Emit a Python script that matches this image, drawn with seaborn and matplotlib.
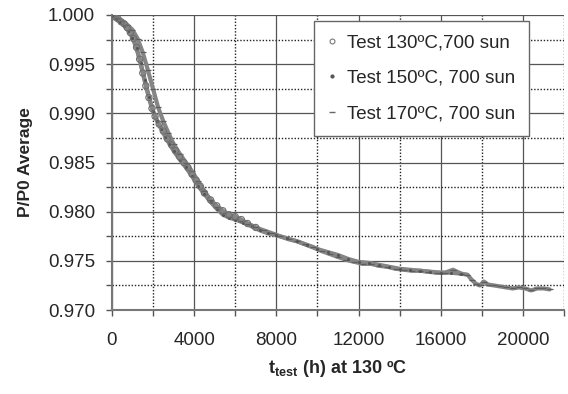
import matplotlib
matplotlib.use("Agg")
import matplotlib.pyplot as plt
import seaborn as sns
import pandas as pd
from matplotlib.ticker import MultipleLocator
from matplotlib.lines import Line2D

# Values (t in h at 130 ºC, P/P0)
t130 = [0, 150, 300, 450, 600, 750, 900, 1050, 1200, 1350, 1500, 1650, 1800, 1950, 2100,
        2300, 2500, 2700, 2900, 3100, 3300, 3500, 3700, 3900, 4100, 4300, 4500, 4800,
        5100, 5400, 5700, 6000, 6300, 6600, 7000]
p130 = [1.0000, 0.9998, 0.9996, 0.9993, 0.9991, 0.9987, 0.9982, 0.9976, 0.9967, 0.9955,
        0.9941, 0.9928, 0.9916, 0.9905, 0.9897, 0.9889, 0.9882, 0.9874, 0.9868, 0.9862,
        0.9856, 0.9850, 0.9845, 0.9838, 0.9832, 0.9826, 0.9819, 0.9812, 0.9806, 0.9801,
        0.9797, 0.9795, 0.9792, 0.9788, 0.9784]

t150 = [0, 200, 400, 600, 800, 1000, 1200, 1400, 1600, 1800, 2000, 2200, 2400, 2600, 2800,
        3000, 3300, 3600, 3900, 4200, 4500, 4800, 5100, 5400, 5700, 6000, 6400, 6800, 7200,
        7600, 8000, 8500, 9000, 9500, 10000, 10500, 11000, 11500, 12000, 12500, 13000,
        13500, 14000, 14500, 15000, 15500, 16000, 16500, 17000]
p150 = [0.9999, 0.9996, 0.9993, 0.9989, 0.9984, 0.9977, 0.9966, 0.9951, 0.9934, 0.9917,
        0.9902, 0.9892, 0.9884, 0.9876, 0.9869, 0.9862, 0.9853, 0.9845, 0.9836, 0.9826,
        0.9818, 0.9810, 0.9803, 0.9797, 0.9794, 0.9792, 0.9789, 0.9785, 0.9781, 0.9778,
        0.9776, 0.9773, 0.9770, 0.9766, 0.9762, 0.9759, 0.9756, 0.9752, 0.9749, 0.9748,
        0.9746, 0.9744, 0.9742, 0.9741, 0.9740, 0.9739, 0.9738, 0.9738, 0.9737]

t170 = [0, 250, 500, 750, 1000, 1250, 1500, 1750, 2000, 2250, 2500, 2750, 3000, 3300, 3600,
        3900, 4200, 4500, 4800, 5100, 5400, 5700, 6000, 6300, 6600, 7000, 7400, 7800, 8200,
        8600, 9000, 9400, 9800, 10200, 10600, 11000, 11400, 11800, 12200, 12600, 13000,
        13400, 13800, 14200, 14600, 15000, 15400, 15800, 16200, 16600, 17000, 17300, 17500,
        17700, 17900, 18100, 18300, 18600, 18900, 19200, 19500, 19800, 20100, 20400, 20700,
        21000, 21300]
p170 = [1.0000, 0.9997, 0.9994, 0.9990, 0.9985, 0.9976, 0.9962, 0.9944, 0.9925, 0.9906,
        0.9892, 0.9880, 0.9869, 0.9859, 0.9850, 0.9841, 0.9831, 0.9821, 0.9812, 0.9805,
        0.9799, 0.9795, 0.9793, 0.9791, 0.9788, 0.9784, 0.9781, 0.9778, 0.9775, 0.9772,
        0.9770, 0.9767, 0.9764, 0.9760, 0.9757, 0.9754, 0.9751, 0.9749, 0.9747, 0.9747,
        0.9745, 0.9744, 0.9742, 0.9741, 0.9740, 0.9740, 0.9739, 0.9738, 0.9738, 0.9741,
        0.9737, 0.9736, 0.9731, 0.9727, 0.9725, 0.9729, 0.9726, 0.9725, 0.9724, 0.9723,
        0.9722, 0.9723, 0.9722, 0.9720, 0.9722, 0.9722, 0.9721]

labels = ["Test 130ºC,700 sun", "Test 150ºC, 700 sun", "Test 170ºC, 700 sun"]

sns.set_style("white")
plt.rcParams["font.family"] = ["Liberation Sans", "DejaVu Sans"]
plt.rcParams["mathtext.fontset"] = "custom"
plt.rcParams["mathtext.rm"] = "Liberation Sans"
plt.rcParams["mathtext.bf"] = "Liberation Sans:bold"

fig = plt.figure(figsize=(5.68, 3.94), dpi=100)
ax = fig.add_axes([0.197, 0.213, 0.796, 0.749])

gray = "#858585"
for t, p in [(t170, p170), (t150, p150), (t130, p130)]:
    d = pd.DataFrame({"t": t, "p": p})
    sns.lineplot(data=d, x="t", y="p", ax=ax, color=gray, lw=3.0, legend=False, zorder=2)

d = pd.DataFrame({"t": t170, "p": p170})
sns.scatterplot(data=d, x="t", y="p", ax=ax, marker="_", s=22, color="#5e5e5e",
                linewidth=0.9, zorder=3)
d = pd.DataFrame({"t": t150, "p": p150})
sns.scatterplot(data=d, x="t", y="p", ax=ax, marker=".", s=20, color="#555555",
                linewidth=0, zorder=3)
d = pd.DataFrame({"t": t130, "p": p130})
sns.scatterplot(data=d, x="t", y="p", ax=ax, marker="o", s=20, facecolor="none",
                edgecolor="#6f6f6f", linewidth=0.8, zorder=4)

ax.set_xlim(0, 22000)
ax.set_ylim(0.970, 1.000)
ax.xaxis.set_major_locator(MultipleLocator(4000))
ax.xaxis.set_minor_locator(MultipleLocator(2000))
ax.yaxis.set_major_locator(MultipleLocator(0.005))
ax.yaxis.set_minor_locator(MultipleLocator(0.0025))
ax.set_xticks([0, 4000, 8000, 12000, 16000, 20000])
ax.set_yticklabels([f"{v:.3f}" for v in ax.get_yticks()])

ax.grid(which="major", color="#555555", lw=0.9, ls="-")
ax.grid(which="minor", color="#222222", lw=1.0, ls=(0, (1, 1.3)))
ax.set_axisbelow(True)

for s in ["top", "right"]:
    ax.spines[s].set_visible(False)
for s in ["left", "bottom"]:
    ax.spines[s].set_color("#777777")
    ax.spines[s].set_linewidth(1.5)

ax.tick_params(which="both", direction="out", length=4, width=1, color="#555555",
               labelsize=13.5, bottom=True, left=True)
ax.tick_params(axis="x", pad=12)
ax.tick_params(axis="y", pad=8)

ax.set_xlabel(r"$\mathbf{t_{test}}$ (h) at 130 ºC", fontsize=13, fontweight="bold", labelpad=6)
ax.set_ylabel("P/P0 Average", fontsize=12.5, fontweight="bold", labelpad=11)

handles = [
    Line2D([], [], ls="none", marker="o", ms=3.5, mfc="none", mec="#777777", mew=0.8),
    Line2D([], [], ls="none", marker=".", ms=4, color="#555555"),
    Line2D([], [], ls="none", marker="_", ms=4, color="#666666"),
]
leg = ax.legend(handles, labels, loc="upper left", bbox_to_anchor=(0.446, 0.98),
                fontsize=13.5, frameon=True, fancybox=False, edgecolor="#666666",
                framealpha=1, handlelength=0.6, handletextpad=0.5, labelspacing=1.0,
                borderpad=0.7, borderaxespad=0)
leg.get_frame().set_linewidth(1.0)

fig.savefig("out.png", dpi=100)
